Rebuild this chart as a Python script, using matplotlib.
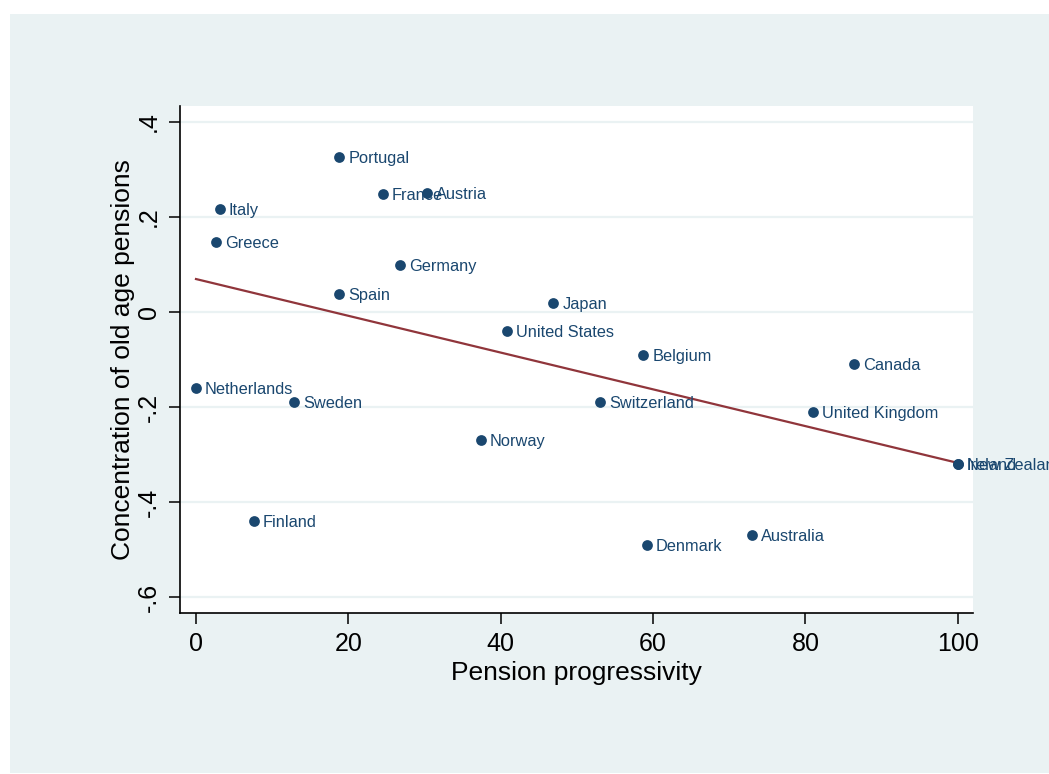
import numpy as np
import matplotlib
matplotlib.use("Agg")
import matplotlib.pyplot as plt
from matplotlib.patches import Rectangle

# Country-level data
countries = ["Portugal", "France", "Austria", "Italy", "Greece", "Germany", "Spain",
             "Japan", "United States", "Belgium", "Canada", "Netherlands", "Sweden",
             "Switzerland", "United Kingdom", "Norway", "Ireland", "New Zealand",
             "Finland", "Denmark", "Australia"]
progressivity = [18.8, 24.5, 30.3, 3.1, 2.6, 26.8, 18.8,
                 46.9, 40.8, 58.7, 86.4, 0.0, 12.9,
                 53.1, 81.0, 37.4, 100.0, 100.0,
                 7.6, 59.2, 73.0]
concentration = [0.326, 0.248, 0.25, 0.217, 0.147, 0.099, 0.038,
                 0.019, -0.04, -0.09, -0.11, -0.16, -0.19,
                 -0.19, -0.21, -0.27, -0.32, -0.32,
                 -0.44, -0.49, -0.47]

x_ticks = [0, 20, 40, 60, 80, 100]
y_ticks = [0.4, 0.2, 0.0, -0.2, -0.4, -0.6]
y_tick_labels = [".4", ".2", "0", "-.2", "-.4", "-.6"]

NAVY = "#1a476f"
MAROON = "#90353b"
PANEL = "#eaf2f3"

plt.rcParams["font.family"] = ["Liberation Sans", "DejaVu Sans"]

fig = plt.figure(figsize=(10.49, 7.74), dpi=100)
fig.patch.set_facecolor("white")
fig.patches.append(Rectangle((10 / 1049, 1 / 774), 1.0, 759 / 774,
                             transform=fig.transFigure, facecolor=PANEL,
                             edgecolor="none", zorder=-10))

ax = fig.add_axes([180 / 1049, 161 / 774, 793 / 1049, 507 / 774])
ax.set_facecolor("white")

# Scatter of countries
ax.scatter(progressivity, concentration, s=60, color=NAVY, zorder=3, linewidths=0)
for name, xv, yv in zip(countries, progressivity, concentration):
    ax.annotate(name, (xv, yv), xytext=(9, 0), textcoords="offset pixels",
                ha="left", va="center_baseline", fontsize=11.8, color=NAVY,
                annotation_clip=False, zorder=4)

# Linear fit
xs = np.array(progressivity)
ys = np.array(concentration)
slope, intercept = np.polyfit(xs, ys, 1)
fit_x = np.array([xs.min(), xs.max()])
ax.plot(fit_x, intercept + slope * fit_x, color=MAROON, lw=1.6, zorder=2)

ax.set_xlim(-2.1, 102.0)
ax.set_ylim(-0.6337, 0.4337)
ax.set_xticks(x_ticks)
ax.set_yticks(y_ticks)
ax.set_yticklabels(y_tick_labels)
ax.grid(axis="y", color=PANEL, lw=1.6, zorder=1)
ax.set_axisbelow(True)

for side in ("top", "right"):
    ax.spines[side].set_visible(False)
for side in ("left", "bottom"):
    ax.spines[side].set_linewidth(1.2)
    ax.spines[side].set_color("black")

ax.tick_params(axis="both", direction="out", length=8, width=1.1, labelsize=18)
ax.tick_params(axis="x", pad=6)
ax.tick_params(axis="y", labelrotation=90, pad=6)
for lbl in ax.get_yticklabels():
    lbl.set_va("center")

ax.set_xlabel("Pension progressivity", fontsize=19, labelpad=3)
ax.set_ylabel("Concentration of old age pensions", fontsize=19, labelpad=1)

fig.savefig("out.png", dpi=100, facecolor=fig.get_facecolor())
